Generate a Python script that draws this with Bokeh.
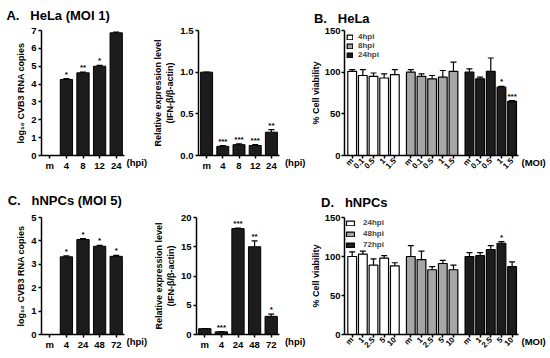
import math
from bokeh.plotting import figure
from bokeh.models import (Range1d, Whisker, ColumnDataSource, LinearAxis,
                          FixedTicker, TeeHead, Legend, LegendItem)
from bokeh.layouts import row, column
from bokeh.embed import file_html
from bokeh.resources import INLINE
from bokeh.core.properties import value

FONT = "Liberation Sans"
NB = "\u00a0"

# ---------------- data ----------------
hpi_hela = ["m", "4", "8", "12", "24"]
hela_cvb3 = [0, 4.26, 4.63, 5.0, 6.87]
hela_cvb3_err = [0, 0.04, 0.04, 0.05, 0.04]
hela_cvb3_sig = ["", "*", "**", "*", "**"]
hela_ifn = [1.0, 0.11, 0.13, 0.12, 0.28]
hela_ifn_err = [0, 0.01, 0.01, 0.01, 0.03]
hela_ifn_sig = ["", "***", "***", "***", "**"]

hpi_hnpc = ["m", "4", "24", "48", "72"]
hnpc_cvb3 = [0, 3.32, 4.06, 3.77, 3.34]
hnpc_cvb3_err = [0, 0.04, 0.04, 0.04, 0.04]
hnpc_cvb3_sig = ["", "*", "*", "*", "*"]
hnpc_ifn = [1.0, 0.45, 18.1, 15.0, 3.1]
hnpc_ifn_err = [0, 0.05, 0.1, 1.0, 0.4]
hnpc_ifn_sig = ["", "***", "***", "**", "*"]

hela_moi = ["m", "0.1", "0.5", "1", "1.5"]
hela_groups = ["4hpi", "8hpi", "24hpi"]
hela_via = [[101, 96, 95, 93, 97], [100, 95, 92, 94, 101], [100, 92, 101, 82, 65]]
hela_via_err = [[2, 7, 4, 5, 6], [3, 3, 4, 8, 11], [4, 2, 16, 1, 1]]
hela_via_sig = [["", "", "", "", ""], ["", "", "", "", ""], ["", "", "", "*", "***"]]

hnpc_moi = ["m", "1", "2.5", "5", "10"]
hnpc_groups = ["24hpi", "48hpi", "72hpi"]
hnpc_via = [[100, 103, 89, 98, 88], [100, 96, 83, 91, 83], [100, 101, 109, 117, 87]]
hnpc_via_err = [[6, 4, 8, 3, 4], [14, 11, 4, 4, 6], [5, 4, 5, 2, 6]]
hnpc_via_sig = [["", "", "", "", ""], ["", "", "", "", ""], ["", "", "", "*", ""]]

titles = {"A": "A." + NB * 3 + "HeLa (MOI 1)",
          "B": "B." + NB * 3 + "HeLa" + NB * 4,
          "C": "C." + NB * 3 + "hNPCs (MOI 5)",
          "D": "D." + NB * 3 + "hNPCs"}

group_colors = ["white", "#a6a6a6", "#1c1c1c"]
group_offsets = [0, 5.5, 11]


def style(p, xfont="9.5px"):
    p.outline_line_color = None
    p.grid.visible = False
    p.background_fill_color = "white"
    p.border_fill_color = "white"
    for ax in p.axis:
        ax.axis_line_width = 1.5
        ax.axis_line_color = "black"
        ax.major_tick_line_width = 1.5
        ax.major_tick_in = 0
        ax.major_tick_out = 3
        ax.minor_tick_line_color = None
        ax.major_label_text_font = FONT
        ax.major_label_text_font_style = "bold"
        ax.major_label_text_font_size = "9.5px"
        ax.major_label_text_color = "black"
        ax.major_label_standoff = 2
        ax.axis_label_text_font = FONT
        ax.axis_label_text_font_style = "bold"
        ax.axis_label_text_font_size = "9px"
        ax.axis_label_text_color = "black"
        ax.axis_label_standoff = 2
    p.xaxis.major_label_standoff = 1
    p.xaxis.major_label_text_font_size = xfont


def label_axis(p, side, tick, text, standoff, size="9.5px"):
    # label-only axis (no line, no ticks), used for panel titles and "(hpi)" / "(MOI)"
    ax = LinearAxis(ticker=FixedTicker(ticks=[tick]), major_label_overrides={tick: text},
                    axis_line_color=None, major_tick_line_color=None, major_tick_out=0,
                    major_tick_in=0, minor_tick_line_color=None, major_label_standoff=standoff,
                    major_label_text_font=FONT, major_label_text_font_style="bold",
                    major_label_text_font_size=size, major_label_text_color="black")
    p.add_layout(ax, side)


def unit_text(p, side, text, standoff):
    label_axis(p, side, 0, "\n" + text, standoff)


def title_text(p, tick, text, standoff):
    label_axis(p, "above", tick, text, standoff, size="13px")


def bar_panel(cats, vals, errs, sigs, ymax, yticks, ylabel, width, height, borders,
              tick_fmt=None):
    l, r, t, b = borders
    p = figure(width=width, height=height, x_range=Range1d(-0.5, len(cats) - 0.5),
               y_range=Range1d(0, ymax), output_backend="svg", toolbar_location=None,
               title=None,
               min_border_left=l, min_border_right=r, min_border_top=t, min_border_bottom=b)
    pos = list(range(len(cats)))
    xs = [i for i, v in zip(pos, vals) if v > 0]
    tops = [v for v in vals if v > 0]
    p.vbar(x=xs, top=tops, width=0.74, fill_color="#1c1c1c", line_color="black", line_width=1)
    src = ColumnDataSource(dict(x=pos, low=vals, up=[v + e for v, e in zip(vals, errs)], sig=sigs))
    p.add_layout(Whisker(source=src, base="x", lower="low", upper="up", dimension="height",
                         line_width=1.2, lower_head=None,
                         upper_head=TeeHead(size=6, line_width=1.2)))
    p.text(x="x", y="up", text="sig", source=src, text_align="center", text_baseline="bottom",
           text_font=value(FONT), text_font_style="bold", text_font_size="8px")
    p.xaxis.ticker = FixedTicker(ticks=pos)
    p.xaxis.major_label_overrides = {i: c for i, c in zip(pos, cats)}
    p.yaxis.ticker = FixedTicker(ticks=yticks)
    if tick_fmt:
        p.yaxis.major_label_overrides = {t_: tick_fmt.format(t_) for t_ in yticks}
    p.yaxis.axis_label = ylabel
    style(p)
    return p


def via_panel(moi, groups, vals, errs, sigs, width, height, borders, legend_spec):
    l, r, t, b = borders
    p = figure(width=width, height=height, x_range=Range1d(-0.72, 15.6),
               y_range=Range1d(0, 150), output_backend="svg", toolbar_location=None,
               title=None,
               min_border_left=l, min_border_right=r, min_border_top=t, min_border_bottom=b)
    ticks = []
    overrides = {}
    items = []
    for gi, g in enumerate(groups):
        xs = [group_offsets[gi] + i for i in range(len(moi))]
        ticks += xs
        for x_, m_ in zip(xs, moi):
            overrides[x_] = m_
        rend = p.vbar(x=xs, top=vals[gi], width=0.82, fill_color=group_colors[gi],
                      line_color="black", line_width=1.2)
        items.append(LegendItem(label=g, renderers=[rend]))
        src = ColumnDataSource(dict(x=xs, low=vals[gi],
                                    up=[v + e for v, e in zip(vals[gi], errs[gi])], sig=sigs[gi]))
        p.add_layout(Whisker(source=src, base="x", lower="low", upper="up", dimension="height",
                             line_width=1.2, lower_head=None,
                             upper_head=TeeHead(size=6, line_width=1.2)))
        p.text(x="x", y="up", text="sig", source=src, text_align="center", text_baseline="bottom",
               text_font=value(FONT), text_font_style="bold", text_font_size="8px")
    p.xaxis.ticker = FixedTicker(ticks=ticks)
    p.xaxis.major_label_overrides = overrides
    p.xaxis.major_label_orientation = math.pi / 4
    p.yaxis.ticker = FixedTicker(ticks=[0, 50, 100, 150])
    p.yaxis.axis_label = "% Cell viability"
    style(p, xfont="8px")
    p.yaxis.major_label_standoff = 1
    p.yaxis.axis_label_standoff = 1
    gw, gh, sp, stand, mg = legend_spec
    leg = Legend(items=items, location="top_left", glyph_width=gw, glyph_height=gh,
                 label_height=gh, spacing=sp, padding=0, margin=mg, label_standoff=stand,
                 border_line_color=None, background_fill_alpha=0,
                 label_text_font=FONT, label_text_font_style="bold", label_text_font_size="8px")
    p.add_layout(leg)
    unit_text(p, "right", "(MOI)", 3)
    # unit text of the neighbouring IFN panel sits in this panel's left margin
    unit_text(p, "left", "(hpi)", 2)
    return p


# ---------------- top row ----------------
a1 = bar_panel(hpi_hela, hela_cvb3, hela_cvb3_err, hela_cvb3_sig, 7, list(range(8)),
               "log\u2081\u2080 CVB3 RNA copies", 150, 178, (41, 24, 30, 23))
unit_text(a1, "right", "(hpi)", 2)
title_text(a1, 0.5, titles["A"], 8)

a2 = bar_panel(hpi_hela, hela_ifn, hela_ifn_err, hela_ifn_sig, 1.5, [0, 0.5, 1.0, 1.5],
               "Relative expression level\n(IFN-\u03b2/\u03b2-actin)", 131, 178, (43, 2, 30, 23),
               tick_fmt="{:.1f}")

b = via_panel(hela_moi, hela_groups, hela_via, hela_via_err, hela_via_sig, 267, 178,
              (56, 28, 30, 23), (7, 6, 0, 5, 2))
title_text(b, -0.3, titles["B"], 5)

# ---------------- bottom row ----------------
c1 = bar_panel(hpi_hnpc, hnpc_cvb3, hnpc_cvb3_err, hnpc_cvb3_sig, 5, list(range(6)),
               "log\u2081\u2080 CVB3 RNA copies", 150, 178, (41, 24, 34, 21))
unit_text(c1, "right", "(hpi)", 2)
title_text(c1, 0.9, titles["C"], 10)

c2 = bar_panel(hpi_hnpc, hnpc_ifn, hnpc_ifn_err, hnpc_ifn_sig, 20, [0, 5, 10, 15, 20],
               "Relative expression level\n(IFN-\u03b2/\u03b2-actin)", 131, 178, (43, 2, 39, 21))

d = via_panel(hnpc_moi, hnpc_groups, hnpc_via, hnpc_via_err, hnpc_via_sig, 267, 178,
              (57, 25, 32, 22), (10, 6, 2, 8, 1))
title_text(d, 0.2, titles["D"], 8)

layout = column(row(a1, a2, b), row(c1, c2, d))
open("out.html", "w").write(file_html(layout, INLINE))
